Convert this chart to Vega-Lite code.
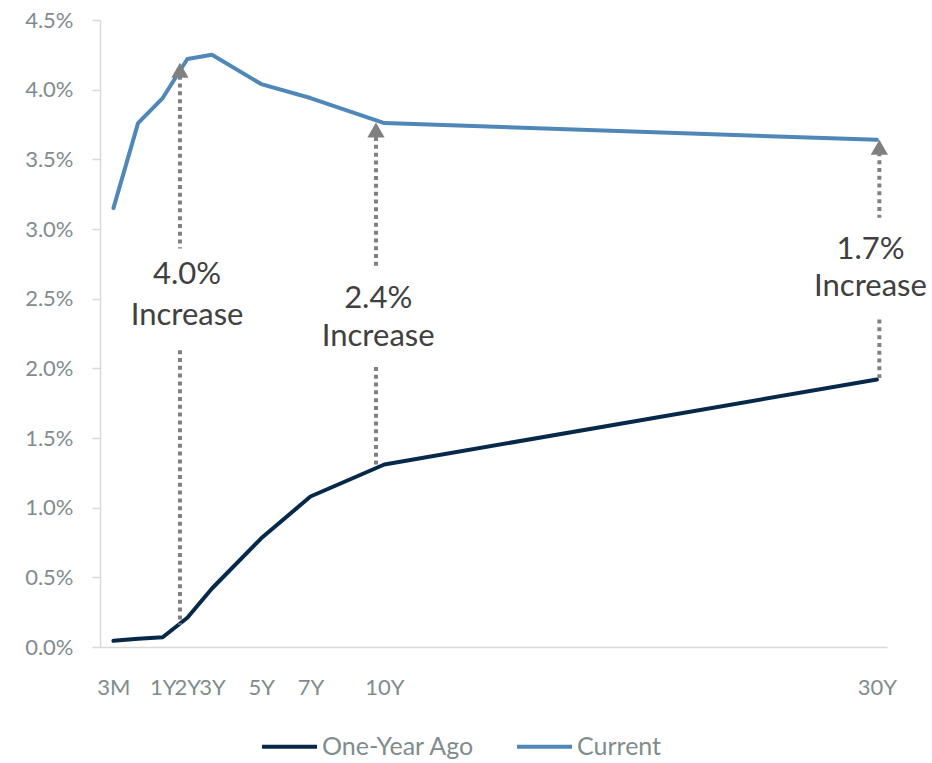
{
  "$schema": "https://vega.github.io/schema/vega-lite/v6.json",
  "autosize": {"type": "none"},
  "padding": {"left": 100, "top": 20, "right": 45, "bottom": 116},
  "width": 787,
  "height": 627,
  "background": "white",
  "config": {
    "view": {"stroke": null},
    "font": "Lato"
  },
  "datasets": {
    "curve": [
      {"tenor": "3M", "u": -1, "series": "One-Year Ago", "rate": 0.045},
      {"tenor": "6M", "u": 0, "series": "One-Year Ago", "rate": 0.06},
      {"tenor": "1Y", "u": 1, "series": "One-Year Ago", "rate": 0.07},
      {"tenor": "2Y", "u": 2, "series": "One-Year Ago", "rate": 0.21},
      {"tenor": "3Y", "u": 3, "series": "One-Year Ago", "rate": 0.42},
      {"tenor": "5Y", "u": 5, "series": "One-Year Ago", "rate": 0.78},
      {"tenor": "7Y", "u": 7, "series": "One-Year Ago", "rate": 1.08},
      {"tenor": "10Y", "u": 10, "series": "One-Year Ago", "rate": 1.31},
      {"tenor": "30Y", "u": 30, "series": "One-Year Ago", "rate": 1.92},
      {"tenor": "3M", "u": -1, "series": "Current", "rate": 3.15},
      {"tenor": "6M", "u": 0, "series": "Current", "rate": 3.76},
      {"tenor": "1Y", "u": 1, "series": "Current", "rate": 3.94},
      {"tenor": "2Y", "u": 2, "series": "Current", "rate": 4.22},
      {"tenor": "3Y", "u": 3, "series": "Current", "rate": 4.25},
      {"tenor": "5Y", "u": 5, "series": "Current", "rate": 4.04},
      {"tenor": "7Y", "u": 7, "series": "Current", "rate": 3.94},
      {"tenor": "10Y", "u": 10, "series": "Current", "rate": 3.76},
      {"tenor": "30Y", "u": 30, "series": "Current", "rate": 3.64}
    ],
    "segments": [
      {"x": 1.70, "y1": 4.10, "y2": 2.86},
      {"x": 1.70, "y1": 2.13, "y2": 0.16},
      {"x": 9.66, "y1": 3.66, "y2": 2.73},
      {"x": 9.66, "y1": 2.01, "y2": 1.285},
      {"x": 30.1, "y1": 3.55, "y2": 3.08},
      {"x": 30.1, "y1": 2.35, "y2": 1.93}
    ],
    "heads": [
      {"x": 1.70, "y": 4.14},
      {"x": 9.66, "y": 3.71},
      {"x": 30.1, "y": 3.587}
    ],
    "labels": [
      {"x": 1.99, "y": 2.67, "text": "4.0%"},
      {"x": 1.99, "y": 2.376, "text": "Increase"},
      {"x": 9.75, "y": 2.498, "text": "2.4%"},
      {"x": 9.75, "y": 2.225, "text": "Increase"},
      {"x": 29.74, "y": 2.85, "text": "1.7%"},
      {"x": 29.74, "y": 2.584, "text": "Increase"}
    ]
  },
  "layer": [
    {
      "data": {"name": "curve"},
      "mark": {"type": "line", "strokeWidth": 4, "strokeCap": "round", "strokeJoin": "round"},
      "encoding": {
        "x": {
          "field": "u", "type": "quantitative",
          "scale": {"domain": [-1.546, 30.41], "nice": false, "zero": false},
          "axis": {
            "title": null,
            "values": [-1, 1, 2, 3, 5, 7, 10, 30],
            "labelExpr": "datum.value == -1 ? '3M' : datum.value + 'Y'",
            "grid": false,
            "ticks": false,
            "domainColor": "#d9d9d9",
            "domainWidth": 1.5,
            "labelColor": "#7f8c8d",
            "labelFontSize": 22,
            "labelPadding": 30,
            "labelFlush": false,
            "labelOverlap": false
          }
        },
        "y": {
          "field": "rate", "type": "quantitative",
          "scale": {"domain": [0, 4.5], "nice": false},
          "axis": {
            "title": null,
            "values": [0, 0.5, 1, 1.5, 2, 2.5, 3, 3.5, 4, 4.5],
            "labelExpr": "format(datum.value, '.1f') + '%'",
            "grid": false,
            "tickSize": 8,
            "tickColor": "#d9d9d9",
            "tickWidth": 1.5,
            "domainColor": "#d9d9d9",
            "domainWidth": 1.5,
            "labelColor": "#7f8c8d",
            "labelFontSize": 22,
            "labelPadding": 19
          }
        },
        "color": {
          "field": "series", "type": "nominal",
          "scale": {"domain": ["One-Year Ago", "Current"], "range": ["#06294a", "#4f87b8"]},
          "legend": {
            "title": null,
            "orient": "none",
            "direction": "horizontal",
            "legendX": 160,
            "legendY": 697,
            "symbolType": "stroke",
            "symbolSize": 3025,
            "symbolStrokeWidth": 4,
            "labelFontSize": 25,
            "labelColor": "#7f8c8d",
            "labelOffset": 3,
            "columnPadding": 34
          }
        },
        "order": {"field": "u", "type": "quantitative"}
      }
    },
    {
      "data": {"name": "segments"},
      "mark": {"type": "rule", "stroke": "#808080", "strokeWidth": 4, "strokeDash": [4, 3.8]},
      "encoding": {
        "x": {"field": "x", "type": "quantitative"},
        "y": {"field": "y1", "type": "quantitative"},
        "y2": {"field": "y2"}
      }
    },
    {
      "data": {"name": "heads"},
      "mark": {"type": "point", "shape": "triangle-up", "filled": true, "color": "#808080", "size": 300, "opacity": 1},
      "encoding": {
        "x": {"field": "x", "type": "quantitative"},
        "y": {"field": "y", "type": "quantitative"}
      }
    },
    {
      "data": {"name": "labels"},
      "mark": {"type": "text", "fontSize": 31, "color": "#404040", "align": "center", "baseline": "middle"},
      "encoding": {
        "x": {"field": "x", "type": "quantitative"},
        "y": {"field": "y", "type": "quantitative"},
        "text": {"field": "text"}
      }
    }
  ]
}
